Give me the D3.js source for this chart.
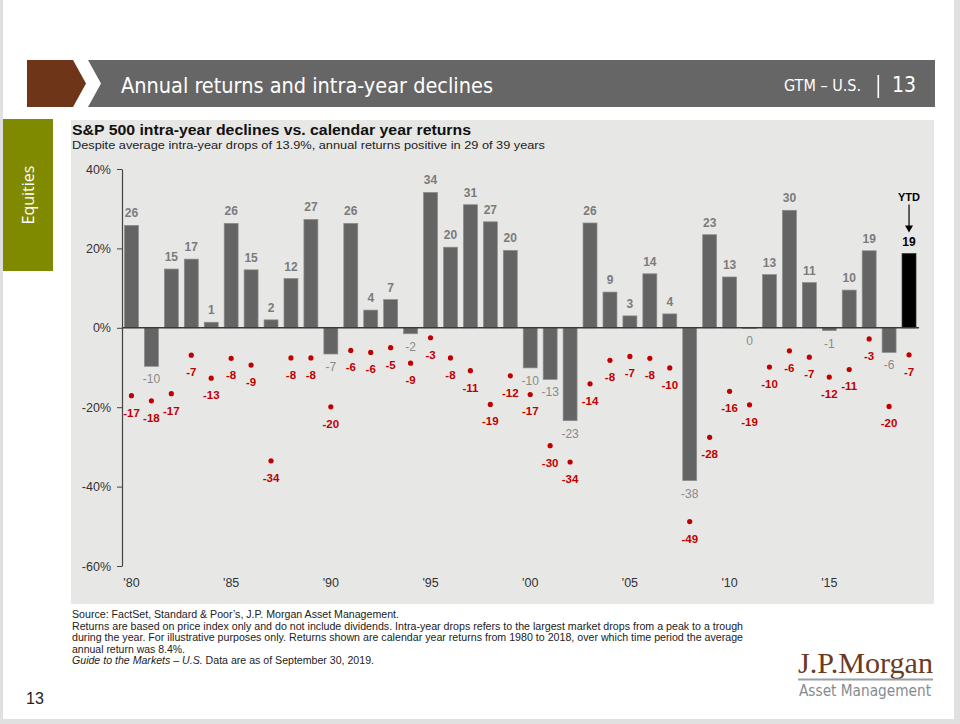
<!DOCTYPE html>
<html><head><meta charset="utf-8">
<script src="https://cdn.jsdelivr.net/npm/d3@7"></script>
<style>
body{margin:0;background:#e0e0e0}
svg{display:block}
text{font-family:"Liberation Sans",Arial,Helvetica,sans-serif}
.narrow{font-family:"Liberation Sans Narrow","DejaVu Sans Condensed","Arial Narrow",sans-serif}
</style>
</head><body>
<svg id="c" width="960" height="724"></svg>
<script>
// ---- data ----
const years = [1980,1981,1982,1983,1984,1985,1986,1987,1988,1989,
               1990,1991,1992,1993,1994,1995,1996,1997,1998,1999,
               2000,2001,2002,2003,2004,2005,2006,2007,2008,2009,
               2010,2011,2012,2013,2014,2015,2016,2017,2018,2019];
const annualReturns = [25.8,-9.7,14.8,17.3,1.4,26.3,14.6,2.0,12.4,27.3,
                       -6.6,26.3,4.46,7.1,-1.5,34.1,20.3,31.0,26.7,19.5,
                       -10.1,-13.0,-23.4,26.4,9.0,3.0,13.6,3.5,-38.49,23.45,
                       12.8,0.0,13.4,29.6,11.4,-0.7,9.5,19.4,-6.2,18.7];
const intraYearDrops = [-17.1,-18.4,-16.6,-6.9,-12.7,-7.7,-9.4,-33.5,-7.6,-7.6,
                        -19.9,-5.7,-6.2,-5.0,-8.9,-2.5,-7.6,-10.8,-19.3,-12.1,
                        -16.8,-29.7,-33.8,-14.1,-8.2,-7.2,-7.7,-10.1,-48.8,-27.6,
                        -16.0,-19.4,-9.9,-5.8,-7.4,-12.4,-10.5,-2.8,-19.8,-6.8];
const ytdYear = 2019;
const yTicks = [-60,-40,-20,0,20,40];
const xTickYears = [1980,1985,1990,1995,2000,2005,2010,2015];
const footerLines = [
  "Source: FactSet, Standard & Poor\u2019s, J.P. Morgan Asset Management.",
  "Returns are based on price index only and do not include dividends. Intra-year drops refers to the largest market drops from a peak to a trough",
  "during the year. For illustrative purposes only. Returns shown are calendar year returns from 1980 to 2018, over which time period the average",
  "annual return was 8.4%."
];
const footerWidths = [327, 671, 671, 113];

const fmt = v => { const r = Math.sign(v) * Math.round(Math.abs(v)); return String(r === 0 ? 0 : r); };

const svg = d3.select("#c");

// page
svg.append("rect").attr("x",3).attr("y",0).attr("width",951).attr("height",719).attr("fill","#ffffff");

// header band
svg.append("path").attr("d","M27,60H73L86,83.5L73,107H27Z").attr("fill","#6f3519");
svg.append("path").attr("d","M88,60H935V107H88L101,83.5Z").attr("fill","#666666");
svg.append("text").attr("class","narrow").attr("x",121).attr("y",92.5)
  .attr("fill","#fff").attr("font-size",22).attr("textLength",372).attr("lengthAdjust","spacingAndGlyphs")
  .text("Annual returns and intra-year declines");
svg.append("text").attr("class","narrow").attr("x",784).attr("y",91)
  .attr("fill","#fff").attr("font-size",16).attr("textLength",77).attr("lengthAdjust","spacingAndGlyphs")
  .text("GTM \u2013 U.S.");
svg.append("rect").attr("x",877.5).attr("y",75).attr("width",1.6).attr("height",23).attr("fill","#fff");
svg.append("text").attr("class","narrow").attr("x",892).attr("y",92)
  .attr("fill","#fff").attr("font-size",21).text("13");

// side tab
svg.append("rect").attr("x",3).attr("y",119).attr("width",50).attr("height",152).attr("fill","#808a00");
svg.append("text").attr("transform","translate(34,195) rotate(-90)").attr("text-anchor","middle")
  .attr("fill","#fff").attr("font-size",16).style("font-family","'Open Sans',sans-serif").text("Equities");

// chart panel
svg.append("rect").attr("x",71).attr("y",120).attr("width",863).attr("height",484).attr("fill","#e7e7e6");

svg.append("text").attr("x",72).attr("y",134.5).attr("font-size",14).attr("font-weight","bold")
  .attr("fill","#111").attr("textLength",399).attr("lengthAdjust","spacingAndGlyphs")
  .text("S&P 500 intra-year declines vs. calendar year returns");
svg.append("text").attr("x",72).attr("y",149).attr("font-size",11)
  .attr("fill","#222").attr("textLength",473).attr("lengthAdjust","spacingAndGlyphs")
  .text("Despite average intra-year drops of 13.9%, annual returns positive in 29 of 39 years");

// scales
const x = d3.scaleBand().domain(years).range([121.5, 919]).paddingInner(0.3).paddingOuter(0.15);
const y = d3.scaleLinear().domain([-60, 40]).range([566, 169]);
const bw = x.bandwidth();
const cx = d => x(d) + bw / 2;

const data = years.map((yr, i) => ({yr, ret: annualReturns[i], drop: intraYearDrops[i]}));

// bars
svg.append("g").selectAll("rect").data(data).join("rect")
  .attr("x", d => x(d.yr))
  .attr("y", d => y(Math.max(0, d.ret)))
  .attr("width", bw)
  .attr("height", d => Math.max(0.8, Math.abs(y(d.ret) - y(0))))
  .attr("fill", d => d.yr === ytdYear ? "#000" : "#646464")
  .attr("stroke", d => d.yr === ytdYear ? "#333" : "#8c8c8c")
  .attr("stroke-width", 0.7);

// zero line
svg.append("line").attr("x1", 122).attr("x2", 919).attr("y1", y(0)).attr("y2", y(0))
  .attr("stroke", "#3a3a3a").attr("stroke-width", 1.5);

// return labels
svg.append("g").selectAll("text").data(data).join("text")
  .attr("x", d => cx(d.yr))
  .attr("y", d => d.ret > 0 ? y(d.ret) - 8 : y(d.ret) + 17)
  .attr("text-anchor", "middle")
  .attr("font-size", 12)
  .attr("font-weight", d => d.ret > 0 ? "bold" : "normal")
  .attr("fill", d => d.yr === ytdYear ? "#000" : (d.ret > 0 ? "#7b7b7b" : "#8a8a8a"))
  .text(d => fmt(d.ret));

// drop dots
svg.append("g").selectAll("circle").data(data).join("circle")
  .attr("cx", d => cx(d.yr)).attr("cy", d => y(d.drop)).attr("r", 2.6).attr("fill", "#c00000");
svg.append("g").selectAll("text").data(data).join("text")
  .attr("x", d => cx(d.yr)).attr("y", d => y(d.drop) + 21)
  .attr("text-anchor", "middle").attr("font-size", 11.5).attr("font-weight", "bold")
  .attr("fill", "#c00000").text(d => fmt(d.drop));

// YTD annotation
const yx = cx(ytdYear);
svg.append("text").attr("x", yx).attr("y", 201).attr("text-anchor","middle")
  .attr("font-size", 11).attr("font-weight","bold").attr("fill","#000").text("YTD");
svg.append("line").attr("x1", yx).attr("x2", yx).attr("y1", 204.5).attr("y2", 226)
  .attr("stroke","#000").attr("stroke-width",1.2);
svg.append("path").attr("d", `M${yx-4},225.5L${yx+4},225.5L${yx},232.5Z`).attr("fill","#000");

// y axis
const yAxis = svg.append("g").attr("transform","translate(122,0)")
  .call(d3.axisLeft(y).tickValues(yTicks).tickFormat(d => d + "%").tickSize(5).tickSizeOuter(0).tickPadding(6));
yAxis.select(".domain").attr("stroke","#444").attr("stroke-width",1.2);
yAxis.selectAll(".tick line").attr("stroke","#444");
yAxis.selectAll("text").attr("font-size",12.5).attr("fill","#333").style("font-family","'Liberation Sans',Arial,sans-serif");

// x axis labels
const xAxis = svg.append("g").attr("transform","translate(0,566)")
  .call(d3.axisBottom(x).tickValues(xTickYears).tickFormat(d => "'" + String(d).slice(2)).tickSize(0).tickPadding(12));
xAxis.select(".domain").remove();
xAxis.selectAll("text").attr("font-size",12.5).attr("fill","#333").style("font-family","'Liberation Sans',Arial,sans-serif");

// footer
const fy = [618, 629.5, 641, 652.5];
footerLines.forEach((t, i) => {
  svg.append("text").attr("x", 72).attr("y", fy[i]).attr("font-size", 10).attr("fill", "#222")
    .attr("textLength", footerWidths[i]).attr("lengthAdjust","spacingAndGlyphs").text(t);
});
const last = svg.append("text").attr("x", 72).attr("y", 664).attr("font-size", 10).attr("fill", "#222")
  .attr("textLength", 302).attr("lengthAdjust","spacingAndGlyphs");
last.append("tspan").attr("font-style","italic").text("Guide to the Markets \u2013 U.S.");
last.append("tspan").text(" Data are as of September 30, 2019.");

// page number
svg.append("text").attr("x", 26).attr("y", 704).attr("font-size", 16).attr("fill", "#222").text("13");

// logo
svg.append("text").attr("x", 798).attr("y", 673).attr("font-size", 29)
  .style("font-family","'Liberation Serif','DejaVu Serif',serif").attr("fill","#6b3a1f")
  .attr("textLength",135).attr("lengthAdjust","spacingAndGlyphs").text("J.P.Morgan");
svg.append("rect").attr("x",798).attr("y",678.5).attr("width",135).attr("height",2).attr("fill","#9aa0a6");
svg.append("text").attr("class","narrow").attr("x", 799).attr("y", 696).attr("font-size", 16.5)
  .attr("fill","#868b90").attr("textLength",132).attr("lengthAdjust","spacingAndGlyphs").text("Asset Management");
</script>
</body></html>
